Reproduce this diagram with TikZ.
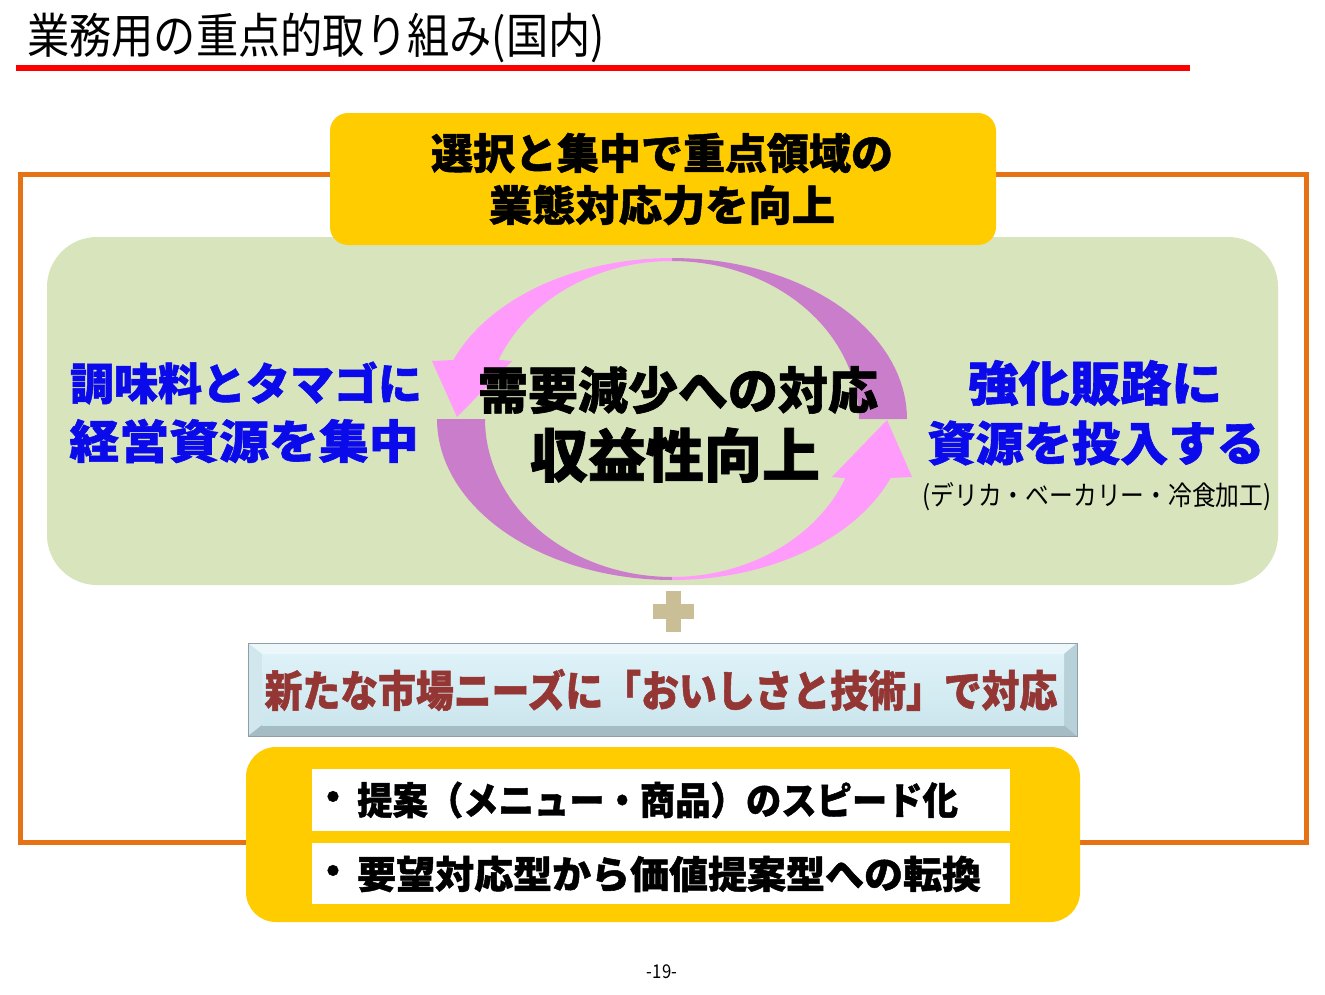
\documentclass[tikz,border=0pt]{standalone}
\usepackage{fontspec}
\newfontfamily\jp{Noto Sans CJK JP}[BoldFeatures={FakeBold=1.2}]
\newfontfamily\jpc{Noto Sans CJK JP}[FakeStretch=0.88,BoldFeatures={FakeBold=1.2}]
\definecolor{gold}{RGB}{255,204,0}
\definecolor{orangeF}{RGB}{230,114,22}
\definecolor{greenbg}{RGB}{216,228,188}
\definecolor{pinkA}{RGB}{255,155,251}
\definecolor{purpA}{RGB}{201,125,203}
\definecolor{blueT}{RGB}{10,10,235}
\definecolor{redT}{RGB}{148,54,52}
\definecolor{tanP}{RGB}{201,190,150}
\definecolor{redL}{RGB}{255,0,0}
\definecolor{bvTop}{RGB}{236,247,251}
\definecolor{bvLeft}{RGB}{210,230,237}
\definecolor{bvRight}{RGB}{184,208,216}
\definecolor{bvBot}{RGB}{165,188,196}
\definecolor{faceT}{RGB}{222,242,248}
\definecolor{faceM}{RGB}{234,247,251}
\definecolor{faceB}{RGB}{204,230,238}
\definecolor{bvEdge}{RGB}{140,160,166}
\tikzset{
  jtxt/.style={inner sep=0pt, anchor=center},
}
\begin{document}
\begin{tikzpicture}[x=1pt,y=-1pt]
\useasboundingbox[fill=white] (0,0) rectangle (1325,994);

% title and rule
\node[jtxt, anchor=west, font=\jpc\fontsize{48}{52}\selectfont] (title) at (27,38) {業務用の重点的取り組み(国内)};
\coordinate (rl1) at (16,68);
\coordinate (rl2) at (1190,68);
\draw[redL, line width=6] (rl1) -- (rl2);

% orange frame
\draw[orangeF, line width=5] (20,174) rectangle (1306,842);

% green panel
\fill[greenbg, rounded corners=50] (47,237) rectangle (1278,585);

% top yellow box
\fill[gold, rounded corners=18] (330,113) rectangle (996,245);
\node[jtxt, font=\jp\bfseries\fontsize{42}{48}\selectfont] (tA) at (662,153) {選択と集中で重点領域の};
\node[jtxt, font=\jp\bfseries\fontsize{42}{48}\selectfont] (tB) at (662,205) {\scalebox{1.03}[1]{業態対応力を向上}};

% circular arrows
\fill[purpA] plot[domain=0:90,samples=40] ({672+235*cos(\x)},{419-161*sin(\x)})
  -- plot[domain=90:0,samples=40] ({672+187*cos(\x)},{419-158*sin(\x)}) -- cycle;
\fill[pinkA] plot[domain=90:158.5,samples=40] ({672+235*cos(\x)},{419-161*sin(\x)})
  -- (432,361) -- (457,417) -- (512,361)
  -- plot[domain=158:90,samples=40] ({672+187*cos(\x)},{419-158*sin(\x)}) -- cycle;
\fill[purpA] plot[domain=180:270,samples=40] ({672+235*cos(\x)},{419-161*sin(\x)})
  -- plot[domain=270:180,samples=40] ({672+187*cos(\x)},{419-158*sin(\x)}) -- cycle;
\fill[pinkA] plot[domain=270:338.5,samples=40] ({672+235*cos(\x)},{419-161*sin(\x)})
  -- (912,477) -- (887,420) -- (832,477)
  -- plot[domain=338:270,samples=40] ({672+187*cos(\x)},{419-158*sin(\x)}) -- cycle;

% left / centre / right texts
\node[jtxt, text=blueT, font=\jp\bfseries\fontsize{44}{50}\selectfont] (lA) at (246,383) {調味料とタマゴに};
\node[jtxt, text=blueT, font=\jp\bfseries\fontsize{46}{50}\selectfont] (lB) at (244,441) {\scalebox{1.085}[1]{経営資源を集中}};
\node[jtxt, font=\jp\bfseries\fontsize{50}{55}\selectfont] (cA) at (678,390) {需要減少への対応};
\node[jtxt, font=\jp\bfseries\fontsize{58}{64}\selectfont] (cB) at (675,455) {収益性向上};
\node[jtxt, text=blueT, font=\jp\bfseries\fontsize{48}{52}\selectfont] (rA) at (1095,383) {\scalebox{1.06}[1]{強化販路に}};
\node[jtxt, text=blueT, font=\jp\bfseries\fontsize{47}{52}\selectfont] (rB) at (1096,443) {\scalebox{1.025}[1]{資源を投入する}};
\node[jtxt, font=\jpc\fontsize{27}{30}\selectfont] (rC) at (1097,497) {(デリカ・ベーカリー・冷食加工)};

% plus sign
\fill[tanP] (652.5,603.5) rectangle (693.5,618.5);
\fill[tanP] (665.5,590.5) rectangle (680.5,631.5);

% bevelled banner
\fill[bvTop] (248,643) -- (1077,643) -- (1064,654) -- (262,654) -- cycle;
\fill[bvLeft] (248,643) -- (262,654) -- (262,725) -- (248,736) -- cycle;
\fill[bvRight] (1077,643) -- (1064,654) -- (1064,725) -- (1077,736) -- cycle;
\fill[bvBot] (248,736) -- (262,725) -- (1064,725) -- (1077,736) -- cycle;
\shade[top color=faceT, middle color=faceM, bottom color=faceB] (262,654) rectangle (1064,725);
\draw[bvEdge, line width=1] (248,643) rectangle (1077,736);
\node[jtxt, text=redT, font=\jpc\bfseries\fontsize{43}{48}\selectfont] (ban) at (661,690) {新たな市場ニーズに「おいしさと技術」で対応};

% bottom yellow box with list
\fill[gold, rounded corners=30] (246,747) rectangle (1080,922);
\fill[white] (312,769) rectangle (1010,831);
\fill[white] (312,843) rectangle (1010,904);
\node[jtxt, font=\jp\bfseries\fontsize{38}{42}\selectfont] (d1) at (333,801) {・};
\node[jtxt, font=\jp\bfseries\fontsize{38}{42}\selectfont] (d2) at (333,875) {・};
\node[jtxt, anchor=west, font=\jp\bfseries\fontsize{38}{42}\selectfont] (b1) at (357,800) {\scalebox{0.93}[1]{提案（メニュー・商品）のスピード化}};
\node[jtxt, anchor=west, font=\jp\bfseries\fontsize{38}{42}\selectfont] (b2) at (357,874) {\scalebox{1.026}[1]{要望対応型から価値提案型への転換}};

% page number
\node[jtxt, font=\jpc\fontsize{19}{22}\selectfont] (pg) at (662,972) {-19-};
\end{tikzpicture}
\end{document}
